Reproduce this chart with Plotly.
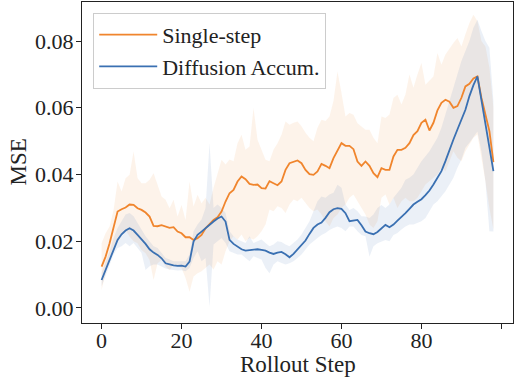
import plotly.graph_objects as go

steps = list(range(99))

single_mean = [
    0.0124, 0.0154, 0.0194, 0.0239, 0.0289, 0.0296, 0.0301, 0.0310, 0.0309, 0.0299,
    0.0294, 0.0286, 0.0274, 0.0246, 0.0245, 0.0248, 0.0245, 0.0240, 0.0242, 0.0229,
    0.0224, 0.0212, 0.0212, 0.0204, 0.0209, 0.0219, 0.0239, 0.0252, 0.0264, 0.0272,
    0.0289, 0.0319, 0.0344, 0.0354, 0.0379, 0.0394, 0.0386, 0.0372, 0.0369, 0.0370,
    0.0359, 0.0358, 0.0380, 0.0374, 0.0368, 0.0379, 0.0414, 0.0434, 0.0439, 0.0442,
    0.0434, 0.0414, 0.0401, 0.0399, 0.0409, 0.0432, 0.0426, 0.0419, 0.0449, 0.0474,
    0.0494, 0.0486, 0.0486, 0.0476, 0.0439, 0.0426, 0.0439, 0.0426, 0.0404, 0.0392,
    0.0419, 0.0414, 0.0414, 0.0454, 0.0474, 0.0474, 0.0480, 0.0494, 0.0518, 0.0530,
    0.0555, 0.0564, 0.0532, 0.0555, 0.0592, 0.0615, 0.0624, 0.0618, 0.0600, 0.0605,
    0.0630, 0.0664, 0.0672, 0.0688, 0.0694, 0.0630, 0.0580, 0.0530, 0.0437,
]
single_upper = [
    0.0194, 0.0224, 0.0244, 0.0294, 0.0379, 0.0349, 0.0389, 0.0399, 0.0469, 0.0389,
    0.0374, 0.0374, 0.0384, 0.0404, 0.0369, 0.0334, 0.0324, 0.0299, 0.0324, 0.0274,
    0.0309, 0.0264, 0.0379, 0.0304, 0.0339, 0.0314, 0.0330, 0.0310, 0.0360, 0.0400,
    0.0444, 0.0430, 0.0445, 0.0440, 0.0494, 0.0519, 0.0474, 0.0484, 0.0599, 0.0504,
    0.0474, 0.0444, 0.0440, 0.0474, 0.0494, 0.0519, 0.0559, 0.0549, 0.0555, 0.0559,
    0.0545, 0.0525, 0.0510, 0.0500, 0.0540, 0.0564, 0.0560, 0.0574, 0.0620, 0.0709,
    0.0644, 0.0574, 0.0584, 0.0579, 0.0554, 0.0545, 0.0534, 0.0534, 0.0510, 0.0494,
    0.0574, 0.0569, 0.0580, 0.0629, 0.0639, 0.0610, 0.0640, 0.0700, 0.0660, 0.0700,
    0.0734, 0.0669, 0.0680, 0.0694, 0.0764, 0.0729, 0.0760, 0.0779, 0.0794, 0.0809,
    0.0784, 0.0820, 0.0854, 0.0879, 0.0860, 0.0800, 0.0784, 0.0720, 0.0600,
]
single_lower = [
    0.0054, 0.0104, 0.0144, 0.0169, 0.0204, 0.0219, 0.0234, 0.0214, 0.0200, 0.0194,
    0.0174, 0.0164, 0.0144, 0.0084, 0.0134, 0.0144, 0.0124, 0.0114, 0.0130, 0.0125,
    0.0120, 0.0090, 0.0049, 0.0094, 0.0104, 0.0110, 0.0120, 0.0130, 0.0115, 0.0140,
    0.0130, 0.0170, 0.0200, 0.0215, 0.0205, 0.0220, 0.0200, 0.0210, 0.0205, 0.0215,
    0.0230, 0.0250, 0.0295, 0.0290, 0.0305, 0.0300, 0.0285, 0.0310, 0.0325, 0.0320,
    0.0330, 0.0315, 0.0300, 0.0290, 0.0295, 0.0280, 0.0260, 0.0244, 0.0270, 0.0280,
    0.0300, 0.0310, 0.0330, 0.0340, 0.0320, 0.0300, 0.0280, 0.0250, 0.0240, 0.0260,
    0.0330, 0.0340, 0.0310, 0.0330, 0.0300, 0.0320, 0.0330, 0.0320, 0.0320, 0.0330,
    0.0350, 0.0370, 0.0380, 0.0390, 0.0400, 0.0420, 0.0410, 0.0440, 0.0470, 0.0450,
    0.0440, 0.0470, 0.0490, 0.0510, 0.0520, 0.0450, 0.0380, 0.0300, 0.0235,
]

diff_mean = [
    0.0084, 0.0114, 0.0149, 0.0179, 0.0204, 0.0221, 0.0232, 0.0239, 0.0232, 0.0219,
    0.0206, 0.0192, 0.0176, 0.0166, 0.0159, 0.0149, 0.0134, 0.0130, 0.0128, 0.0126,
    0.0127, 0.0124, 0.0139, 0.0199, 0.0219, 0.0229, 0.0240, 0.0250, 0.0259, 0.0268,
    0.0274, 0.0259, 0.0204, 0.0192, 0.0184, 0.0176, 0.0172, 0.0174, 0.0176, 0.0176,
    0.0174, 0.0172, 0.0166, 0.0162, 0.0166, 0.0168, 0.0161, 0.0152, 0.0162, 0.0175,
    0.0187, 0.0202, 0.0222, 0.0240, 0.0250, 0.0256, 0.0270, 0.0287, 0.0296, 0.0299,
    0.0297, 0.0284, 0.0260, 0.0262, 0.0264, 0.0248, 0.0229, 0.0224, 0.0221, 0.0228,
    0.0238, 0.0249, 0.0242, 0.0250, 0.0262, 0.0272, 0.0284, 0.0297, 0.0310, 0.0318,
    0.0326, 0.0338, 0.0352, 0.0370, 0.0390, 0.0410, 0.0440, 0.0475, 0.0505, 0.0535,
    0.0565, 0.0594, 0.0635, 0.0668, 0.0694, 0.0623, 0.0552, 0.0481, 0.0410,
]
diff_upper = [
    0.0105, 0.0135, 0.0170, 0.0210, 0.0240, 0.0260, 0.0280, 0.0285, 0.0275, 0.0255,
    0.0235, 0.0215, 0.0200, 0.0185, 0.0180, 0.0165, 0.0150, 0.0145, 0.0140, 0.0140,
    0.0140, 0.0140, 0.0160, 0.0230, 0.0250, 0.0265, 0.0300, 0.0494, 0.0300, 0.0310,
    0.0300, 0.0285, 0.0230, 0.0215, 0.0205, 0.0200, 0.0195, 0.0215, 0.0195, 0.0200,
    0.0205, 0.0195, 0.0185, 0.0190, 0.0200, 0.0198, 0.0190, 0.0185, 0.0195, 0.0205,
    0.0220, 0.0240, 0.0260, 0.0290, 0.0320, 0.0334, 0.0330, 0.0340, 0.0345, 0.0369,
    0.0360, 0.0310, 0.0294, 0.0300, 0.0290, 0.0275, 0.0274, 0.0270, 0.0280, 0.0300,
    0.0309, 0.0300, 0.0310, 0.0330, 0.0345, 0.0360, 0.0384, 0.0390, 0.0400, 0.0420,
    0.0440, 0.0455, 0.0470, 0.0490, 0.0510, 0.0540, 0.0580, 0.0620, 0.0660, 0.0700,
    0.0740, 0.0770, 0.0800, 0.0840, 0.0864, 0.0830, 0.0800, 0.0780, 0.0620,
]
diff_lower = [
    0.0065, 0.0095, 0.0130, 0.0160, 0.0180, 0.0185, 0.0195, 0.0185, 0.0195, 0.0180,
    0.0165, 0.0114, 0.0125, 0.0130, 0.0130, 0.0125, 0.0118, 0.0115, 0.0113, 0.0112,
    0.0113, 0.0110, 0.0120, 0.0150, 0.0170, 0.0140, 0.0150, 0.0004, 0.0190, 0.0200,
    0.0210, 0.0195, 0.0170, 0.0165, 0.0160, 0.0160, 0.0150, 0.0140, 0.0155, 0.0150,
    0.0145, 0.0120, 0.0104, 0.0130, 0.0140, 0.0135, 0.0130, 0.0134, 0.0140, 0.0150,
    0.0160, 0.0175, 0.0190, 0.0200, 0.0210, 0.0219, 0.0225, 0.0234, 0.0240, 0.0244,
    0.0240, 0.0230, 0.0244, 0.0244, 0.0230, 0.0219, 0.0215, 0.0154, 0.0185, 0.0194,
    0.0200, 0.0204, 0.0200, 0.0219, 0.0225, 0.0235, 0.0244, 0.0250, 0.0250, 0.0254,
    0.0260, 0.0270, 0.0290, 0.0310, 0.0320, 0.0335, 0.0350, 0.0370, 0.0390, 0.0420,
    0.0445, 0.0480, 0.0495, 0.0510, 0.0529, 0.0470, 0.0380, 0.0230, 0.0229,
]

x_ticks = [0, 20, 40, 60, 80, 100]
y_ticks = [0.00, 0.02, 0.04, 0.06, 0.08]

ORANGE = "#f0852d"
BLUE = "#3a70b2"
FONT = "Liberation Serif"
INK = "#222222"

fig = go.Figure()

def band(lo, hi, rgba):
    fig.add_trace(go.Scatter(
        x=steps + steps[::-1], y=hi + lo[::-1], fill="toself",
        fillcolor=rgba, line=dict(width=0), mode="lines",
        showlegend=False, hoverinfo="skip"))

band(single_lower, single_upper, "rgba(240,133,45,0.10)")
band(diff_lower, diff_upper, "rgba(58,112,178,0.10)")

fig.add_trace(go.Scatter(x=steps, y=single_mean, mode="lines", name="Single-step",
                         line=dict(color=ORANGE, width=1.8)))
fig.add_trace(go.Scatter(x=steps, y=diff_mean, mode="lines", name="Diffusion Accum.",
                         line=dict(color=BLUE, width=1.8)))

axis_common = dict(showgrid=False, zeroline=False, showline=True, linecolor=INK,
                   linewidth=1, mirror=True, ticks="outside", ticklen=5, tickwidth=1,
                   tickcolor=INK, automargin=False,
                   tickfont=dict(family=FONT, size=22, color=INK))

fig.update_layout(
    width=516, height=382,
    margin=dict(l=82, r=3, t=2, b=59, autoexpand=False),
    paper_bgcolor="white", plot_bgcolor="white",
    font=dict(family=FONT, size=22, color=INK),
    xaxis=dict(range=[-4.9, 102.9], tickvals=x_ticks, ticklabelstandoff=-7, **axis_common),
    yaxis=dict(range=[-0.0045, 0.0917], tickvals=y_ticks, tickformat=".2f",
               ticklabelstandoff=-2, **axis_common),
    legend=dict(x=0.026, y=0.966, xanchor="left", yanchor="top",
                bgcolor="rgba(255,255,255,0.8)", bordercolor="#cccccc", borderwidth=1,
                font=dict(family=FONT, size=22, color=INK), tracegroupgap=0,
                itemwidth=58),
    showlegend=True,
    annotations=[
        dict(text="Rollout Step", xref="paper", yref="paper", x=0.5, y=0,
             yshift=-41, xanchor="center", yanchor="middle", showarrow=False,
             font=dict(family=FONT, size=23, color=INK)),
        dict(text="MSE", xref="paper", yref="paper", x=0, y=0.5, xshift=-64,
             xanchor="center", yanchor="middle", textangle=-90, showarrow=False,
             font=dict(family=FONT, size=23, color=INK)),
    ],
)

fig.write_html("out.html", config={"displayModeBar": False},
               post_script="document.body.style.margin='0';document.body.style.padding='0';")
